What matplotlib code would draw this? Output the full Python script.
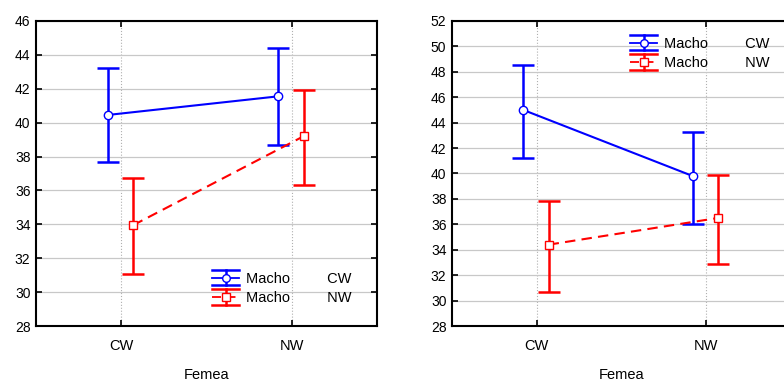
import matplotlib.pyplot as plt
from matplotlib.lines import Line2D
from matplotlib.legend_handler import HandlerBase

plt.rcParams['font.family'] = ['Liberation Sans', 'DejaVu Sans']

categories = ['CW', 'NW']
series_names = ['Macho         CW', 'Macho         NW']

# left panel: means and interval bounds
left_mean = [[40.45, 41.55], [33.95, 39.2]]
left_low = [[37.7, 38.7], [31.05, 36.3]]
left_high = [[43.2, 44.4], [36.75, 41.9]]

# right panel
right_mean = [[45.0, 39.8], [34.4, 36.5]]
right_low = [[41.2, 36.05], [30.7, 32.9]]
right_high = [[48.5, 43.3], [37.8, 39.9]]

colors = ['#0000ff', '#ff0000']
markers = ['o', 's']
styles = ['-', (0, (5, 3))]
offsets = [-0.08, 0.07]


class ErrHandle(HandlerBase):
    def __init__(self, color, marker, ls):
        super().__init__()
        self.color, self.marker, self.ls = color, marker, ls

    def create_artists(self, legend, orig, xd, yd, w, h, fs, trans):
        cy = h / 2 - yd
        top = cy + h * 0.75
        bot = cy - h * 0.75
        x0, x1 = -xd, -xd + w
        xm = (x0 + x1) / 2
        arts = [
            Line2D([x0, x1], [cy, cy], color=self.color, lw=1.3, ls=self.ls),
            Line2D([xm, xm], [bot, top], color=self.color, lw=1.8),
            Line2D([x0, x1], [top, top], color=self.color, lw=1.8),
            Line2D([x0, x1], [bot, bot], color=self.color, lw=1.8),
            Line2D([xm], [cy], marker=self.marker, ms=5.5, mfc='white',
                   mec=self.color, mew=1, ls='none'),
        ]
        for a in arts:
            a.set_transform(trans)
        return arts


def panel(ax, means, lows, highs, ylim, yticks, legend_loc):
    handles = []
    for i in range(2):
        xs = [j + offsets[i] for j in range(len(categories))]
        m = means[i]
        err = [[m[j] - lows[i][j] for j in range(2)],
               [highs[i][j] - m[j] for j in range(2)]]
        ax.errorbar(xs, m, yerr=err, fmt='none', ecolor=colors[i],
                    elinewidth=1.8, capsize=8, capthick=1.8, zorder=3)
        ax.plot(xs, m, color=colors[i], ls=styles[i], lw=1.5, zorder=4)
        ax.plot(xs, m, marker=markers[i], ls='none', ms=6, mfc='white',
                mec=colors[i], mew=1, zorder=5)
        handles.append(Line2D([], [], color=colors[i]))
    ax.set_xlim(-0.5, 1.5)
    ax.set_ylim(*ylim)
    ax.set_yticks(yticks)
    ax.set_xticks(range(len(categories)))
    ax.set_xticklabels(categories)
    ax.yaxis.grid(True, color='#c8c8c8', lw=0.9)
    ax.xaxis.grid(True, color='#b0b0b0', lw=0.8, ls=':')
    ax.set_axisbelow(True)
    for s in ax.spines.values():
        s.set_linewidth(1.5)
    ax.tick_params(direction='in', length=4, width=1.2, top=True, right=True,
                   labelsize=10, pad=4)
    ax.tick_params(axis='x', labelsize=10.5, pad=9)
    ax.set_xlabel('Femea', fontsize=10.5, labelpad=11)
    hmap = {handles[i]: ErrHandle(colors[i], markers[i], styles[i]) for i in range(2)}
    ax.legend(handles, series_names, handler_map=hmap, loc=legend_loc,
              frameon=False, fontsize=10.5, handlelength=1.85, handletextpad=0.45,
              labelspacing=0.35, borderaxespad=0)


fig = plt.figure(figsize=(7.84, 3.80), dpi=100)
ax1 = fig.add_axes([0.0459, 0.142, 0.435, 0.803])
ax2 = fig.add_axes([0.5765, 0.142, 0.4324, 0.803])

panel(ax1, left_mean, left_low, left_high, (28, 46), range(28, 47, 2), (0.50, 0.05))
panel(ax2, right_mean, right_low, right_high, (28, 52), range(28, 53, 2), (0.508, 0.82))

fig.savefig('out.png', dpi=100)
